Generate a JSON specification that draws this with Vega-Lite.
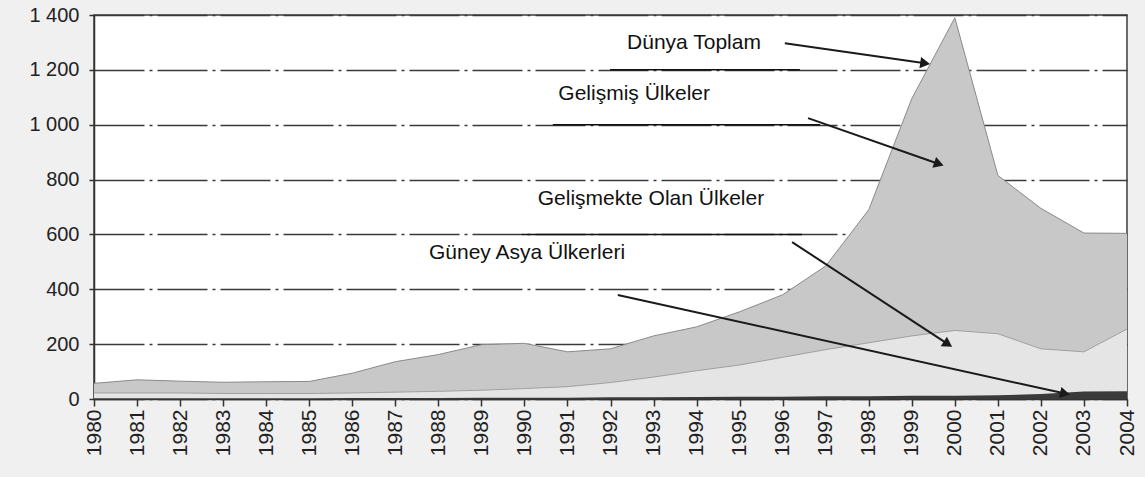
{
  "$schema": "https://vega.github.io/schema/vega-lite/v6.json",
  "autosize": "none",
  "width": 1033,
  "height": 384,
  "padding": {"left": 94, "top": 15, "right": 18, "bottom": 78},
  "background": "#f0f0f0",
  "config": {
    "view": {"fill": "white", "stroke": "#3c3c3c", "strokeWidth": 1.5},
    "font": "Liberation Sans",
    "axisX": {"grid": false},
    "axis": {"title": null}
  },
  "datasets": {
    "main": [
      {"year": 1980, "world": 57, "developing": 22, "southAsia": 3},
      {"year": 1981, "world": 70, "developing": 22, "southAsia": 3},
      {"year": 1982, "world": 65, "developing": 22, "southAsia": 3},
      {"year": 1983, "world": 61, "developing": 20, "southAsia": 3},
      {"year": 1984, "world": 63, "developing": 20, "southAsia": 3},
      {"year": 1985, "world": 64, "developing": 20, "southAsia": 3},
      {"year": 1986, "world": 94, "developing": 22, "southAsia": 4},
      {"year": 1987, "world": 136, "developing": 25, "southAsia": 4},
      {"year": 1988, "world": 162, "developing": 28, "southAsia": 4},
      {"year": 1989, "world": 198, "developing": 32, "southAsia": 5},
      {"year": 1990, "world": 203, "developing": 38, "southAsia": 5},
      {"year": 1991, "world": 172, "developing": 45, "southAsia": 5},
      {"year": 1992, "world": 183, "developing": 60, "southAsia": 6},
      {"year": 1993, "world": 230, "developing": 80, "southAsia": 6},
      {"year": 1994, "world": 263, "developing": 103, "southAsia": 7},
      {"year": 1995, "world": 318, "developing": 124, "southAsia": 8},
      {"year": 1996, "world": 380, "developing": 152, "southAsia": 8},
      {"year": 1997, "world": 485, "developing": 180, "southAsia": 10},
      {"year": 1998, "world": 690, "developing": 205, "southAsia": 10},
      {"year": 1999, "world": 1095, "developing": 230, "southAsia": 12},
      {"year": 2000, "world": 1390, "developing": 250, "southAsia": 12},
      {"year": 2001, "world": 815, "developing": 238, "southAsia": 14},
      {"year": 2002, "world": 695, "developing": 183, "southAsia": 18},
      {"year": 2003, "world": 605, "developing": 172, "southAsia": 27},
      {"year": 2004, "world": 604, "developing": 255, "southAsia": 28}
    ],
    "notes": [
      {"label": "Dünya Toplam", "tx": 1993.94, "ty": 1298, "x1": 1996.05, "y1": 1297, "x2": 1999.31, "y2": 1224},
      {"label": "Gelişmiş Ülkeler", "tx": 1992.55, "ty": 1112, "x1": 1996.59, "y1": 1024, "x2": 1999.63, "y2": 857},
      {"label": "Gelişmekte Olan Ülkeler", "tx": 1992.94, "ty": 729, "x1": 1996.22, "y1": 572, "x2": 1999.84, "y2": 200},
      {"label": "Güney Asya Ülkerleri", "tx": 1990.06, "ty": 534, "x1": 1992.17, "y1": 379, "x2": 2002.56, "y2": 20}
    ],
    "boxlines": [
      {"y": 1200, "x1": 1991.99, "x2": 1996.4},
      {"y": 1000, "x1": 1990.66, "x2": 1996.87},
      {"y": 600, "x1": 1989.94, "x2": 1996.45}
    ]
  },
  "encoding": {
    "x": {
      "type": "quantitative",
      "scale": {"domain": [1980, 2004], "nice": false, "zero": false},
      "axis": {
        "title": null,
        "values": [1980,1981,1982,1983,1984,1985,1986,1987,1988,1989,1990,1991,1992,1993,1994,1995,1996,1997,1998,1999,2000,2001,2002,2003,2004],
        "format": "d",
        "labelAngle": -90,
        "labelFontSize": 21,
        "labelColor": "#222222",
        "labelPadding": 3,
        "labelFlush": false,
        "labelOverlap": false,
        "tickSize": 7,
        "tickWidth": 1.5,
        "tickColor": "#333333",
        "domainColor": "#333333",
        "domainWidth": 1.5,
        "grid": false
      }
    },
    "y": {
      "type": "quantitative",
      "scale": {"domain": [0, 1400], "nice": false},
      "axis": {
        "title": null,
        "values": [0, 200, 400, 600, 800, 1000, 1200, 1400],
        "labelExpr": "replace(format(datum.value, ','), ',', ' ')",
        "labelFontSize": 20,
        "labelColor": "#222222",
        "labelPadding": 10,
        "tickSize": 5,
        "tickWidth": 1.5,
        "tickColor": "#333333",
        "domainColor": "#333333",
        "domainWidth": 1.5,
        "grid": true,
        "gridColor": "#3a3a3a",
        "gridWidth": 1.5,
        "gridDash": [50, 5, 3, 5]
      }
    }
  },
  "layer": [
    {
      "data": {"name": "main"},
      "mark": {"type": "area", "color": "#c8c8c8", "opacity": 1, "line": {"color": "#8a8a8a", "strokeWidth": 1}},
      "encoding": {
        "x": {"field": "year"},
        "y": {"field": "world"}
      }
    },
    {
      "data": {"name": "main"},
      "mark": {"type": "area", "color": "#e5e5e5", "opacity": 1, "line": {"color": "#a0a0a0", "strokeWidth": 1}},
      "encoding": {
        "x": {"field": "year"},
        "y": {"field": "developing"}
      }
    },
    {
      "data": {"name": "main"},
      "mark": {"type": "area", "color": "#3a3a3a", "opacity": 1},
      "encoding": {
        "x": {"field": "year"},
        "y": {"field": "southAsia"}
      }
    },
    {
      "data": {"name": "boxlines"},
      "mark": {"type": "rule", "color": "#111111", "strokeWidth": 1.5},
      "encoding": {
        "x": {"field": "x1"},
        "x2": {"field": "x2"},
        "y": {"field": "y"}
      }
    },
    {
      "data": {"name": "notes"},
      "mark": {"type": "rule", "color": "#1a1a1a", "strokeWidth": 2},
      "encoding": {
        "x": {"field": "x1"},
        "y": {"field": "y1"},
        "x2": {"field": "x2"},
        "y2": {"field": "y2"}
      }
    },
    {
      "data": {"name": "notes"},
      "transform": [
        {"calculate": "atan2(-(datum.y2 - datum.y1) * 384 / 1400, (datum.x2 - datum.x1) * 1033 / 24) * 180 / PI", "as": "heading"}
      ],
      "mark": {"type": "point", "shape": "triangle-right", "filled": true, "color": "#1a1a1a", "size": 130, "opacity": 1},
      "encoding": {
        "x": {"field": "x2"},
        "y": {"field": "y2"},
        "angle": {"field": "heading", "type": "quantitative", "scale": null}
      }
    },
    {
      "data": {"name": "notes"},
      "mark": {"type": "text", "fontSize": 21, "color": "#111111", "align": "center", "baseline": "middle", "font": "Liberation Sans"},
      "encoding": {
        "x": {"field": "tx"},
        "y": {"field": "ty"},
        "text": {"field": "label"}
      }
    }
  ]
}
